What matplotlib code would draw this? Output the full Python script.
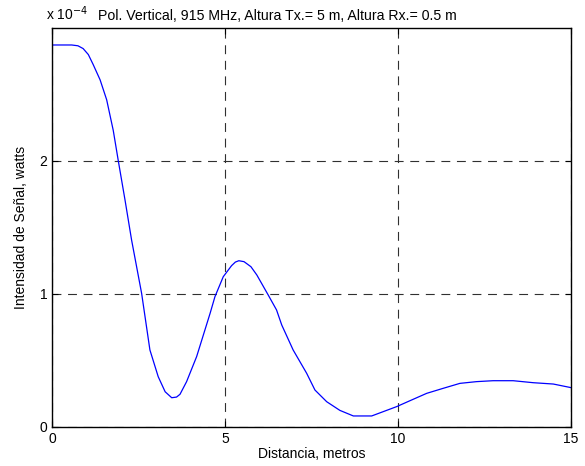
import matplotlib
matplotlib.use('Agg')
import matplotlib.pyplot as plt
import numpy as np

plt.rcParams['font.family'] = ['Liberation Sans', 'DejaVu Sans']

# distance (m) and received power (x 1e-4 W)
dist = [0.0, 0.57, 0.75, 0.90, 1.05, 1.19, 1.39, 1.58, 1.77, 1.92, 2.11, 2.30, 2.59, 2.83,
        3.07, 3.27, 3.46, 3.60, 3.70, 3.89, 4.18, 4.57, 4.71, 4.95, 5.19, 5.30, 5.40, 5.55,
        5.75, 5.92, 6.25, 6.49, 6.64, 6.97, 7.36, 7.60, 7.94, 8.32, 8.71, 9.24, 9.96,
        10.35, 10.83, 11.31, 11.79, 12.27, 12.75, 13.33, 13.91, 14.49, 15.0]
power = [2.872, 2.872, 2.866, 2.845, 2.80, 2.725, 2.61, 2.46, 2.23, 1.995, 1.707, 1.406, 1.005, 0.579,
         0.378, 0.265, 0.220, 0.225, 0.246, 0.341, 0.529, 0.855, 0.98, 1.13, 1.213, 1.240, 1.250, 1.243,
         1.205, 1.143, 0.992, 0.88, 0.767, 0.579, 0.404, 0.278, 0.19, 0.125, 0.083, 0.083, 0.153,
         0.198, 0.253, 0.291, 0.328, 0.341, 0.348, 0.348, 0.333, 0.323, 0.296]

power_w = np.array(power) * 1e-4

fig = plt.figure(figsize=(5.85, 4.66), dpi=100)
ax = fig.add_axes([0.0889, 0.0837, 0.8871, 0.8563])
ax.plot(dist, power_w, color='#0000ff', lw=0.9)

ax.set_xlim(0, 15)
ax.set_ylim(0, 3e-4)
ax.set_xticks([0, 5, 10, 15])
ax.set_yticks([0, 1e-4, 2e-4])
ax.set_yticklabels(['0', '1', '2'])
ax.tick_params(direction='in', top=True, right=True, labelsize=10, length=4, width=0.8)
ax.grid(True, color='#303030', linestyle=(0, (8, 6)), lw=0.8)
for s in ax.spines.values():
    s.set_linewidth(1.0)

ax.set_xlabel('Distancia, metros', fontsize=10, labelpad=1)
ax.set_ylabel('Intensidad de Señal, watts', fontsize=10, labelpad=8)
ax.set_title('Pol. Vertical, 915 MHz, Altura Tx.= 5 m, Altura Rx.= 0.5 m',
             fontsize=10.2, pad=6, x=0.434)
ax.text(-0.012, 1.012, r'x 10$^{-4}$', transform=ax.transAxes, fontsize=10,
        ha='left', va='bottom')

fig.savefig('out.png', dpi=100)
